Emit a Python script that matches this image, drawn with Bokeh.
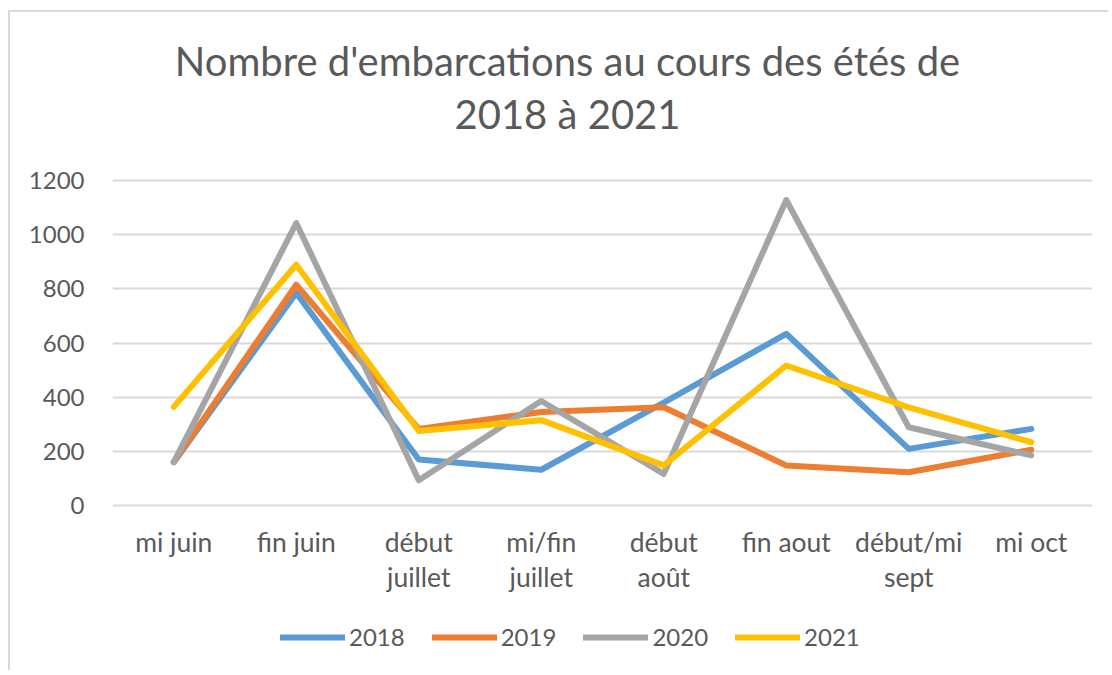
from bokeh.plotting import figure
from bokeh.models import Legend, LegendItem, FactorRange, Range1d, FixedTicker, Label
from bokeh.core.properties import value
from bokeh.embed import file_html
from bokeh.resources import INLINE

# ---------------- data ----------------
categories = ["mi juin", "fin juin", "début\njuillet", "mi/fin\njuillet",
              "début\naoût", "fin aout", "début/mi\nsept", "mi oct"]
years = ["2018", "2019", "2020", "2021"]
s2018 = [160, 785, 170, 132, 380, 634, 209, 283]
s2019 = [160, 815, 283, 345, 363, 148, 123, 206]
s2020 = [160, 1043, 93, 386, 117, 1128, 289, 185]
s2021 = [364, 889, 275, 315, 148, 517, 362, 234]
y_ticks = [0, 200, 400, 600, 800, 1000, 1200]
title_line1 = "Nombre d'embarcations au cours des étés de"
title_line2 = "2018 à 2021"

# ---------------- style / layout ----------------
colors = ["#5B9BD5", "#ED7D31", "#A5A5A5", "#FFC000"]
TXT = "#595959"
GRID = "#D9D9D9"
FONT = "Lato"

W, H = 1100, 660            # figure size
ORIGIN_X, ORIGIN_Y = 10, 12  # page position of figure content (margin + border)
FRAME_L, FRAME_R = 112, 1092  # page x of plot area
FRAME_T, FRAME_B = 12, 665    # page y of (extended) frame
Y_TOP_PAGE, Y0_PAGE = 180, 505  # page y of 1200 and 0
UPP = (y_ticks[-1] - y_ticks[0]) / (Y0_PAGE - Y_TOP_PAGE)


def ydata(page_y):
    return (Y0_PAGE - page_y) * UPP


def xdata(page_x):
    return (page_x - FRAME_L) / (FRAME_R - FRAME_L) * len(categories)


p = figure(x_range=FactorRange(factors=categories),
           y_range=Range1d(ydata(FRAME_B), ydata(FRAME_T)),
           width=W, height=H, output_backend="svg", toolbar_location=None,
           title=None, x_axis_location=None,
           min_border_left=FRAME_L - ORIGIN_X,
           min_border_right=W - (FRAME_R - ORIGIN_X),
           min_border_top=FRAME_T - ORIGIN_Y,
           min_border_bottom=H - (FRAME_B - ORIGIN_Y))
p.styles = {"margin-left": "8px", "margin-top": "10px",
            "border-left": "2px solid " + GRID, "border-top": "2px solid " + GRID}
p.outline_line_color = None

p.xgrid.visible = False
p.ygrid.grid_line_color = GRID
p.ygrid.grid_line_width = 2
p.yaxis.ticker = FixedTicker(ticks=y_ticks)
p.yaxis.axis_line_color = None
p.yaxis.major_tick_line_color = None
p.yaxis.minor_tick_line_color = None
p.yaxis.major_label_text_font = FONT
p.yaxis.major_label_text_font_size = "24px"
p.yaxis.major_label_text_color = TXT
p.yaxis.major_label_standoff = 22

# category labels (two lines where needed), hung under the 0 line
line1 = [c.split("\n")[0] for c in categories]
line2 = [c.split("\n")[1] if "\n" in c else "" for c in categories]
base = [y_ticks[0]] * len(categories)
for txt, off in ((line1, 36), (line2, 71)):
    p.text(x=categories, y=base, text=txt, y_offset=off,
           text_align="center", text_baseline="alphabetic",
           text_font=value(FONT), text_font_size="26.5px", text_color=TXT)

series = [s2018, s2019, s2020, s2021]
items = []
for name, vals, c in zip(years, series, colors):
    r = p.line(x=categories, y=vals, line_color=c, line_width=6,
               line_join="round", line_cap="round")
    items.append(LegendItem(label=name, renderers=[r]))

legend = Legend(items=items, orientation="horizontal",
                location=(280 - FRAME_L, 14),
                glyph_width=65, glyph_height=24, label_standoff=4, spacing=27,
                padding=0, margin=0, border_line_color=None,
                background_fill_alpha=0,
                label_text_font=FONT, label_text_font_size="24px",
                label_text_color=TXT)
p.add_layout(legend)

for txt, baseline in ((title_line1, 60), (title_line2, 113)):
    p.add_layout(Label(x=xdata(567), y=ydata(baseline), text=txt,
                       text_align="center", text_baseline="alphabetic",
                       text_font=FONT, text_font_size="40px",
                       text_color=TXT))

open("out.html", "w").write(file_html(p, INLINE))
